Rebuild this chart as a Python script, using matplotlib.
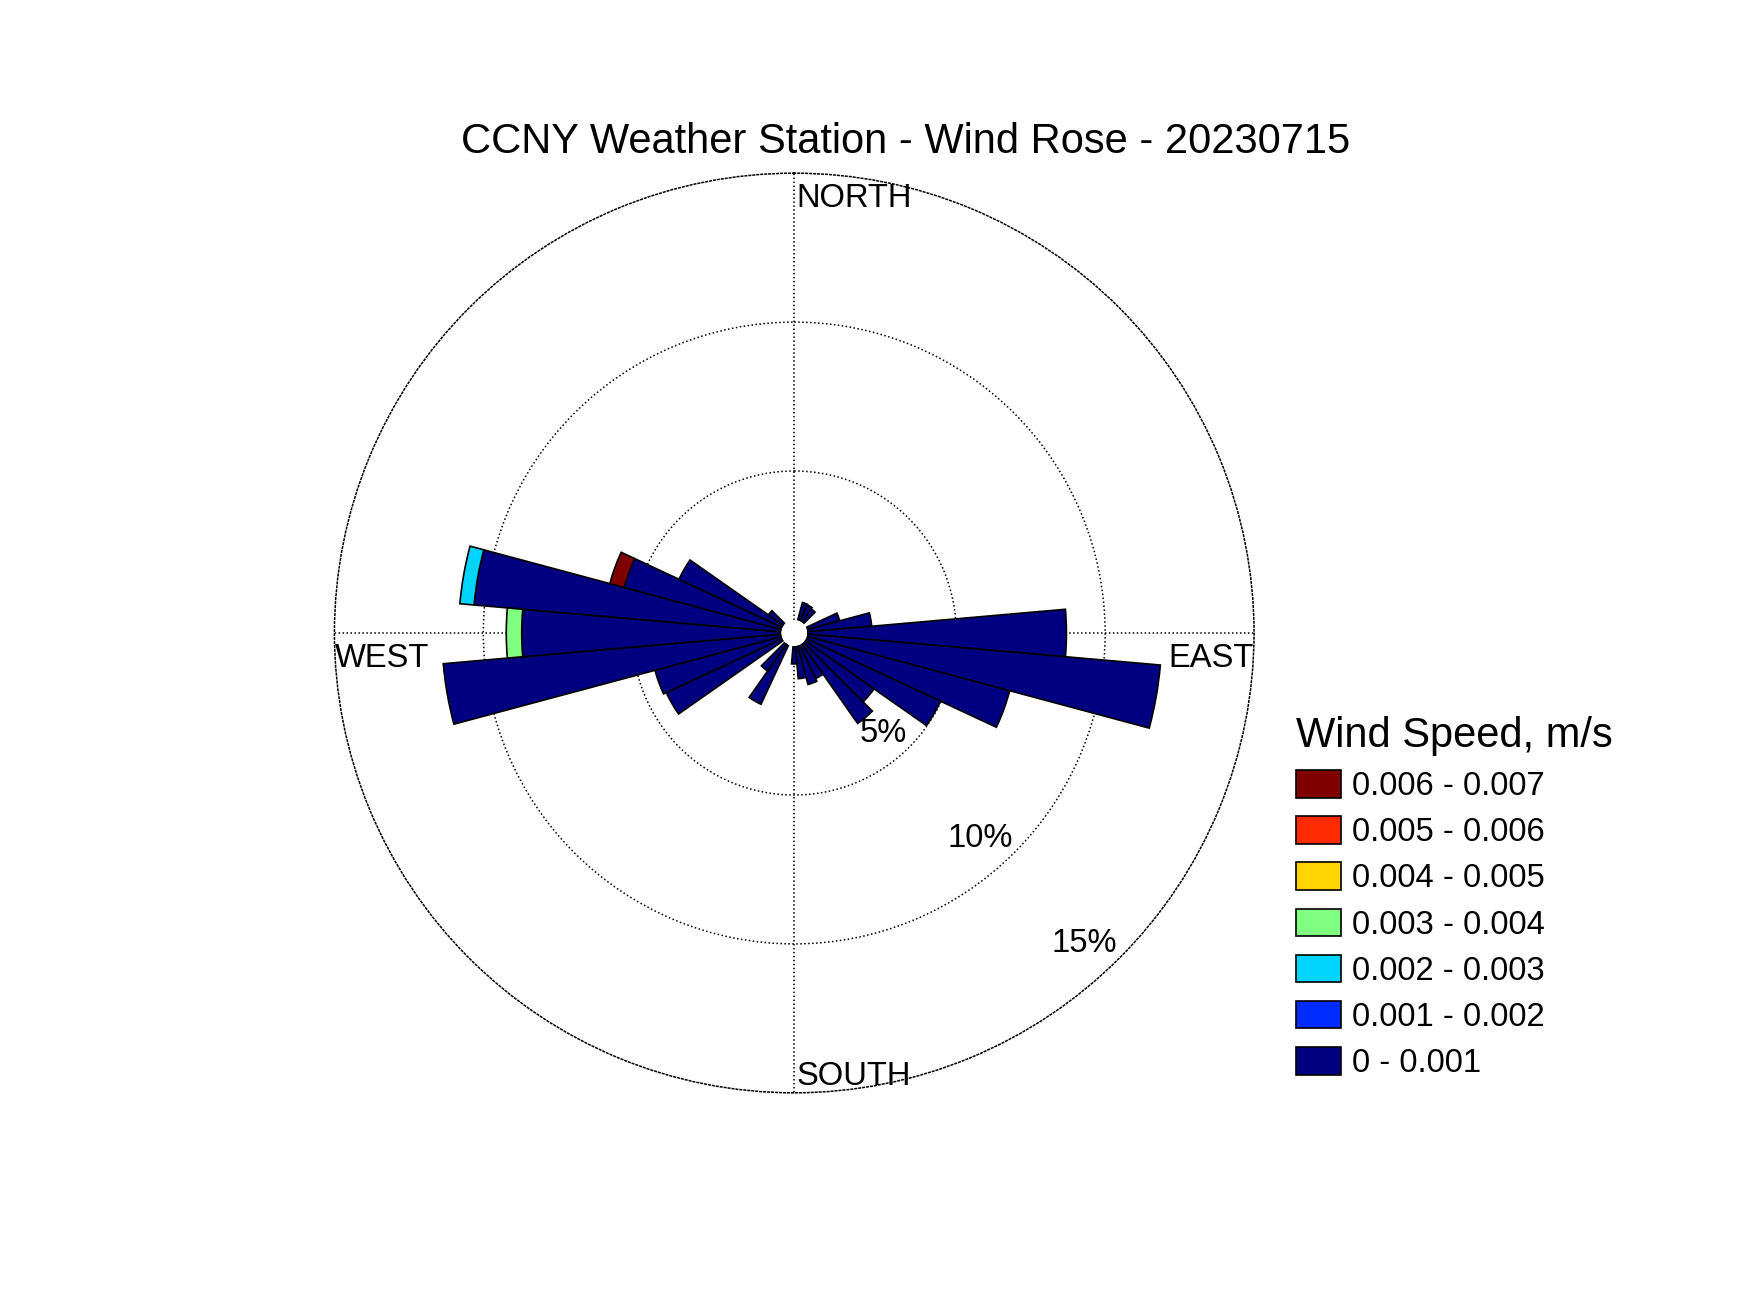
import numpy as np
import matplotlib
matplotlib.use("Agg")
import matplotlib.pyplot as plt
from matplotlib.patches import Patch

plt.rcParams['font.family'] = ['Liberation Sans', 'DejaVu Sans']

# direction sectors (deg clockwise from north, 10 deg wide); empty sectors left out
directions = [20, 30, 40, 70, 80, 90, 100, 110, 120, 130, 140, 150, 160,
              170, 180, 210, 220, 240, 250, 260, 270, 280, 290, 300, 310]

# frequency in % for each speed bin, same order as directions
freq_000_001 = [0.62, 0.60, 0.55, 1.14, 2.17, 8.70, 11.90, 7.05, 4.98, 2.83, 3.27, 1.25, 1.35,
                1.10, 0.60, 2.20, 1.12, 4.30, 4.40, 11.39, 8.71, 10.35, 5.47, 3.83, 0.62]
freq_001_002 = [0, 0, 0, 0, 0, 0, 0, 0, 0, 0, 0, 0, 0,
                0, 0, 0, 0, 0, 0, 0, 0, 0, 0, 0, 0]
freq_002_003 = [0, 0, 0, 0, 0, 0, 0, 0, 0, 0, 0, 0, 0,
                0, 0, 0, 0, 0, 0, 0, 0, 0.48, 0, 0, 0]
freq_003_004 = [0, 0, 0, 0, 0, 0, 0, 0, 0, 0, 0, 0, 0,
                0, 0, 0, 0, 0, 0, 0, 0.52, 0, 0, 0, 0]
freq_004_005 = [0, 0, 0, 0, 0, 0, 0, 0, 0, 0, 0, 0, 0,
                0, 0, 0, 0, 0, 0, 0, 0, 0, 0, 0, 0]
freq_005_006 = [0, 0, 0, 0, 0, 0, 0, 0, 0, 0, 0, 0, 0,
                0, 0, 0, 0, 0, 0, 0, 0, 0, 0, 0, 0]
freq_006_007 = [0, 0, 0, 0, 0, 0, 0, 0, 0, 0, 0, 0, 0,
                0, 0, 0, 0, 0, 0, 0, 0, 0, 0.50, 0, 0]

speed_bins = ['0 - 0.001', '0.001 - 0.002', '0.002 - 0.003', '0.003 - 0.004',
              '0.004 - 0.005', '0.005 - 0.006', '0.006 - 0.007']
bin_colors = ['#000080', '#002BFF', '#00D4FF', '#80FF80', '#FFD400', '#FF2B00', '#800000']
series = [freq_000_001, freq_001_002, freq_002_003, freq_003_004,
          freq_004_005, freq_005_006, freq_006_007]

ring_values = [5, 10, 15]
ring_labels = ['5%', '10%', '15%']
ring_label_r = [3.99, 8.76, 13.73]
ring_label_theta = [137.3, 137.4, 136.6]

fig = plt.figure(figsize=(17.5, 13.13), dpi=100)
ax = fig.add_axes([0.1911, 0.1677, 0.5255, 0.7004], projection='polar')
ax.set_theta_zero_location('N')
ax.set_theta_direction(-1)
ax.set_rorigin(-0.44)
ax.set_ylim(0, 15)

theta = np.deg2rad(directions)
width = np.deg2rad(10)
bottom = np.zeros(len(directions))
for vals, color in zip(series, bin_colors):
    vals = np.array(vals, dtype=float)
    m = vals > 0
    if m.any():
        ax.bar(theta[m], vals[m], width=width, bottom=bottom[m], color=color,
               edgecolor='black', linewidth=1.2, zorder=3)
    bottom += vals

# grid: dotted rings and the four main axes
dots = (0, (1, 1.6))
ax.set_xticks(np.deg2rad([0, 90, 180, 270]))
ax.set_xticklabels([])
ax.set_yticks(ring_values[:-1])
ax.set_yticklabels([])
ax.tick_params(length=0)
ax.grid(True, color='black', linestyle=dots, linewidth=1.1)
ax.spines['polar'].set_linestyle(dots)
ax.spines['polar'].set_linewidth(1.1)
ax.spines['inner'].set_linewidth(0)

for t, r, lab in zip(ring_label_theta, ring_label_r, ring_labels):
    ax.text(np.deg2rad(t), r, lab, ha='center', va='center_baseline', fontsize=23.6)

ax.text(0.502, 0.9632, 'NORTH', transform=ax.transAxes, ha='left', va='baseline', fontsize=23.6)
ax.text(0.502, 0.0082, 'SOUTH', transform=ax.transAxes, ha='left', va='baseline', fontsize=23.6)
ax.text(0.0, 0.4632, 'WEST', transform=ax.transAxes, ha='left', va='baseline', fontsize=23.6)
ax.text(1.0, 0.4632, 'EAST', transform=ax.transAxes, ha='right', va='baseline', fontsize=23.6)

fig.text(0.5175, 0.8835, 'CCNY Weather Station - Wind Rose - 20230715',
         ha='center', va='baseline', fontsize=30)

handles = [Patch(facecolor=c, edgecolor='black', linewidth=1.2) for c in reversed(bin_colors)]
fig.legend(handles, list(reversed(speed_bins)), loc='upper left',
           bbox_to_anchor=(1296 / 1750, 1 - 716 / 1313), frameon=False,
           fontsize=23.6, title='Wind Speed, m/s', title_fontsize=30, alignment='left',
           handlelength=1.37, handleheight=0.915, handletextpad=0.33,
           labelspacing=0.43, borderpad=0, borderaxespad=0)

fig.savefig('out.png', dpi=100)
